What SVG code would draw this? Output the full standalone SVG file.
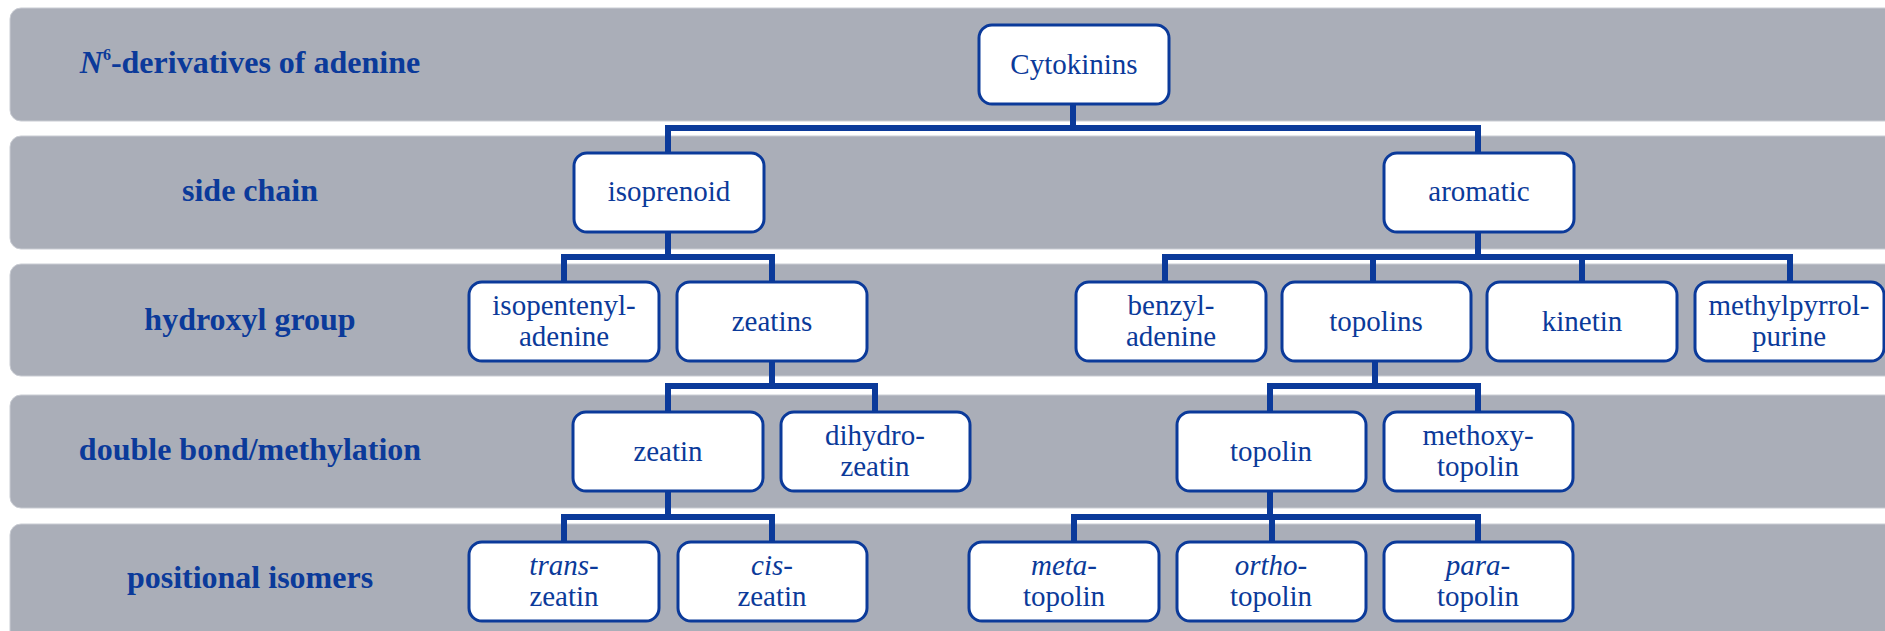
<svg xmlns="http://www.w3.org/2000/svg" width="1885" height="631" viewBox="0 0 1885 631">
<style>
.band{fill:#aaaeb8;stroke:#c9ccd3;stroke-width:1}
.lbl{font-family:"Liberation Serif","Times New Roman",serif;font-weight:bold;font-size:32px;fill:#0b3a9a;text-anchor:middle}
.box{fill:#ffffff;stroke:#0b3a9a;stroke-width:3}
.t{font-family:"Liberation Serif","Times New Roman",serif;font-size:29px;fill:#0b3a9a;text-anchor:middle}
.i{font-style:italic}
.con{fill:none;stroke:#0b3a9a;stroke-width:6;stroke-linejoin:miter;stroke-linecap:butt}
</style>
<rect width="1885" height="631" fill="#ffffff"/>
<g id="bands">
<rect class="band" x="10" y="8" width="1895" height="113" rx="11"/>
<rect class="band" x="10" y="136" width="1895" height="113" rx="11"/>
<rect class="band" x="10" y="264" width="1895" height="112" rx="11"/>
<rect class="band" x="10" y="395" width="1895" height="113" rx="11"/>
<rect class="band" x="10" y="524" width="1895" height="130" rx="11"/>
</g>
<g id="labels">
<text class="lbl" x="250" y="73"><tspan font-style="italic">N</tspan><tspan font-size="16" dy="-13">6</tspan><tspan dy="13">-derivatives of adenine</tspan></text>
<text class="lbl" x="250" y="201">side chain</text>
<text class="lbl" x="250" y="330">hydroxyl group</text>
<text class="lbl" x="250" y="460">double bond/methylation</text>
<text class="lbl" x="250" y="588">positional isomers</text>
</g>
<g id="connectors">
<path class="con" d="M1073,104 V128 M668,153 V128 H1478 V153"/>
<path class="con" d="M668,232 V257 M564,282 V257 H772 V282"/>
<path class="con" d="M1478,232 V257 M1165,282 V257 H1790 V282 M1373,257 V282 M1582,257 V282"/>
<path class="con" d="M772,361 V386 M668,412 V386 H875 V412"/>
<path class="con" d="M1375,361 V386 M1270,412 V386 H1478 V412"/>
<path class="con" d="M668,491 V517 M564,542 V517 H772 V542"/>
<path class="con" d="M1270,491 V517 M1074,542 V517 H1478 V542 M1272,517 V542"/>
</g>
<g id="n-cytokinins"><rect class="box" x="979" y="25" width="190" height="79" rx="13"/><text class="t" x="1074" y="74">Cytokinins</text></g>
<g id="n-isoprenoid"><rect class="box" x="574" y="153" width="190" height="79" rx="13"/><text class="t" x="669" y="201">isoprenoid</text></g>
<g id="n-aromatic"><rect class="box" x="1384" y="153" width="190" height="79" rx="13"/><text class="t" x="1479" y="201">aromatic</text></g>
<g id="n-isopentenyladenine"><rect class="box" x="469" y="282" width="190" height="79" rx="13"/><text class="t" x="564" y="315">isopentenyl-</text><text class="t" x="564" y="346">adenine</text></g>
<g id="n-zeatins"><rect class="box" x="677" y="282" width="190" height="79" rx="13"/><text class="t" x="772" y="331">zeatins</text></g>
<g id="n-benzyladenine"><rect class="box" x="1076" y="282" width="190" height="79" rx="13"/><text class="t" x="1171" y="315">benzyl-</text><text class="t" x="1171" y="346">adenine</text></g>
<g id="n-topolins"><rect class="box" x="1282" y="282" width="189" height="79" rx="13"/><text class="t" x="1376" y="331">topolins</text></g>
<g id="n-kinetin"><rect class="box" x="1487" y="282" width="190" height="79" rx="13"/><text class="t" x="1582" y="331">kinetin</text></g>
<g id="n-methylpyrrolpurine"><rect class="box" x="1695" y="282" width="189" height="79" rx="13"/><text class="t" x="1789" y="315">methylpyrrol-</text><text class="t" x="1789" y="346">purine</text></g>
<g id="n-zeatin"><rect class="box" x="573" y="412" width="190" height="79" rx="13"/><text class="t" x="668" y="461">zeatin</text></g>
<g id="n-dihydrozeatin"><rect class="box" x="781" y="412" width="189" height="79" rx="13"/><text class="t" x="875" y="445">dihydro-</text><text class="t" x="875" y="476">zeatin</text></g>
<g id="n-topolin"><rect class="box" x="1177" y="412" width="189" height="79" rx="13"/><text class="t" x="1271" y="461">topolin</text></g>
<g id="n-methoxytopolin"><rect class="box" x="1384" y="412" width="189" height="79" rx="13"/><text class="t" x="1478" y="445">methoxy-</text><text class="t" x="1478" y="476">topolin</text></g>
<g id="n-transzeatin"><rect class="box" x="469" y="542" width="190" height="79" rx="13"/><text class="t" x="564" y="575"><tspan class="i">trans</tspan>-</text><text class="t" x="564" y="606">zeatin</text></g>
<g id="n-ciszeatin"><rect class="box" x="678" y="542" width="189" height="79" rx="13"/><text class="t" x="772" y="575"><tspan class="i">cis</tspan>-</text><text class="t" x="772" y="606">zeatin</text></g>
<g id="n-metatopolin"><rect class="box" x="969" y="542" width="190" height="79" rx="13"/><text class="t" x="1064" y="575"><tspan class="i">meta</tspan>-</text><text class="t" x="1064" y="606">topolin</text></g>
<g id="n-orthotopolin"><rect class="box" x="1177" y="542" width="189" height="79" rx="13"/><text class="t" x="1271" y="575"><tspan class="i">ortho</tspan>-</text><text class="t" x="1271" y="606">topolin</text></g>
<g id="n-paratopolin"><rect class="box" x="1384" y="542" width="189" height="79" rx="13"/><text class="t" x="1478" y="575"><tspan class="i">para</tspan>-</text><text class="t" x="1478" y="606">topolin</text></g>
</svg>
